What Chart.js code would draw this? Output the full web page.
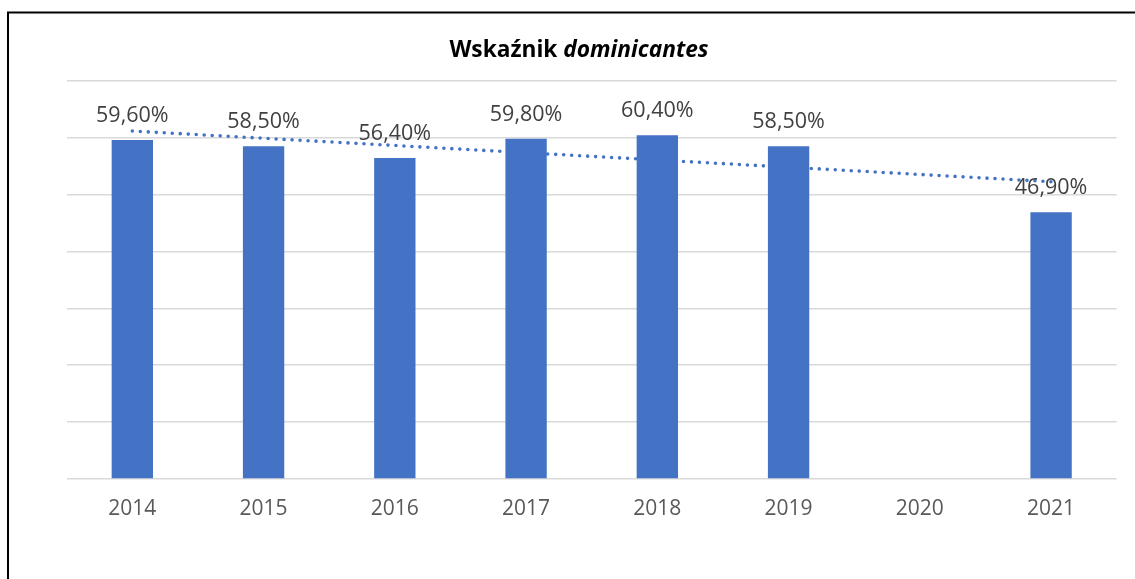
<!DOCTYPE html>
<html>
<head>
<meta charset="utf-8">
<script src="https://cdn.jsdelivr.net/npm/chart.js@4"></script>
<style>
  html, body { margin: 0; padding: 0; background: #fff; }
  #wrap { position: relative; width: 1135px; height: 579px; }
  canvas { display: block; }
</style>
</head>
<body>
<div id="wrap"><canvas id="c" width="1135" height="579"></canvas></div>
<script>
// ---- data ----
const categories = ['2014', '2015', '2016', '2017', '2018', '2019', '2020', '2021'];
const values = [59.6, 58.5, 56.4, 59.8, 60.4, 58.5, null, 46.9];
const titleMain = 'Wskaźnik ';
const titleItalic = 'dominicantes';
const yMin = 0, yMax = 70, yStep = 10;

// linear trendline (least squares over the non-empty points, like Excel)
function trend(vals) {
  const pts = [];
  vals.forEach((v, i) => { if (v !== null) pts.push([i + 1, v]); });
  const n = pts.length;
  const mx = pts.reduce((s, p) => s + p[0], 0) / n;
  const my = pts.reduce((s, p) => s + p[1], 0) / n;
  let sxy = 0, sxx = 0;
  pts.forEach(p => { sxy += (p[0] - mx) * (p[1] - my); sxx += (p[0] - mx) ** 2; });
  const b = sxy / sxx, a = my - b * mx;
  return vals.map((_, i) => a + b * (i + 1));
}
const trendValues = trend(values);

const FONT = '"Open Sans", "DejaVu Sans", sans-serif';

const framePlugin = {
  id: 'frame',
  beforeDraw(chart) {
    const ctx = chart.ctx;
    ctx.save();
    ctx.fillStyle = '#fff';
    ctx.fillRect(0, 0, chart.width, chart.height);
    ctx.strokeStyle = '#000';
    ctx.lineWidth = 2;
    ctx.beginPath();
    ctx.moveTo(8, chart.height);
    ctx.lineTo(8, 12.5);
    ctx.lineTo(chart.width, 12.5);
    ctx.stroke();
    ctx.restore();
  }
};

const titlePlugin = {
  id: 'mixedTitle',
  afterDraw(chart) {
    const ctx = chart.ctx;
    ctx.save();
    ctx.fillStyle = '#000';
    ctx.textBaseline = 'alphabetic';
    ctx.textAlign = 'left';
    const f1 = 'bold 22.7px ' + FONT;
    const f2 = 'italic bold 22.7px ' + FONT;
    ctx.font = f1; const w1 = ctx.measureText(titleMain).width;
    ctx.font = f2; const w2 = ctx.measureText(titleItalic).width;
    const x0 = 579 - (w1 + w2) / 2;
    const y = 56.7;
    ctx.font = f1; ctx.fillText(titleMain, x0, y);
    ctx.font = f2; ctx.fillText(titleItalic, x0 + w1, y);
    ctx.restore();
  }
};

const labelPlugin = {
  id: 'barLabels',
  afterDatasetsDraw(chart) {
    const ctx = chart.ctx;
    const meta = chart.getDatasetMeta(0);
    ctx.save();
    ctx.font = '21.5px ' + FONT;
    ctx.fillStyle = '#404040';
    ctx.textAlign = 'center';
    ctx.textBaseline = 'alphabetic';
    meta.data.forEach((bar, i) => {
      const v = values[i];
      if (v === null) return;
      const txt = v.toFixed(2).replace('.', ',') + '%';
      ctx.fillText(txt, bar.x, bar.y - 18);
    });
    ctx.restore();
  }
};

new Chart(document.getElementById('c'), {
  data: {
    labels: categories,
    datasets: [
      {
        type: 'bar',
        data: values,
        backgroundColor: '#4472C4',
        borderWidth: 0,
        categoryPercentage: 1,
        barPercentage: 0.315,
        order: 1
      },
      {
        type: 'line',
        data: trendValues,
        borderColor: '#4472C4',
        borderWidth: 3.6,
        borderDash: [0, 8],
        borderCapStyle: 'round',
        pointRadius: 0,
        fill: false,
        tension: 0,
        order: 2
      }
    ]
  },
  options: {
    responsive: false,
    animation: false,
    devicePixelRatio: 1,
    layout: { padding: { left: 66.7, right: 18.3, top: 80.7, bottom: 0 } },
    plugins: {
      legend: { display: false },
      title: { display: false },
      tooltip: { enabled: false }
    },
    scales: {
      x: {
        grid: { display: false },
        border: { display: false },
        ticks: { color: '#595959', font: { family: FONT, size: 21 }, padding: 9, maxRotation: 0 },
        afterFit(s) { s.height = 100; }
      },
      y: {
        min: yMin, max: yMax,
        ticks: { display: false, stepSize: yStep },
        grid: { color: '#d9d9d9', lineWidth: 1.5, drawTicks: false },
        border: { display: false },
        afterFit(s) { s.width = 0; }
      }
    }
  },
  plugins: [framePlugin, titlePlugin, labelPlugin]
});
</script>
</body>
</html>
